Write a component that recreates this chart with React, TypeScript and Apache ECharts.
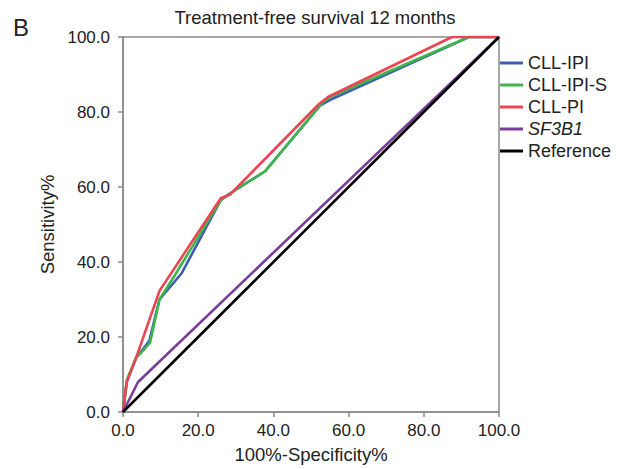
import React, { useEffect, useRef } from "react";
import * as echarts from "echarts";

const seriesNames = ["CLL-IPI", "CLL-IPI-S", "CLL-PI", "SF3B1", "Reference"];
const seriesColors = ["#3a5fb0", "#3db54a", "#ec4450", "#7a3d98", "#000000"];

const cllIpi: [number, number][] = [
  [0, 0], [1, 8], [3.5, 14.5], [5.5, 17], [7, 19], [9.7, 30], [15.6, 37], [26, 56.5], [28, 58],
  [37.8, 64.2], [52.5, 81.8], [55, 83.2], [92, 100], [100, 100],
];
const cllIpiS: [number, number][] = [
  [0, 0], [1, 8.5], [3.5, 14.5], [5, 16], [7.2, 18.5], [9.7, 30], [13.5, 36], [26, 56.5], [28, 58],
  [37.8, 64.2], [53, 82.5], [55, 84], [92, 100], [100, 100],
];
const cllPi: [number, number][] = [
  [0, 0], [1, 8], [3.5, 14.5], [9.7, 32.3], [26, 57], [28.5, 58], [52, 82], [54.5, 84],
  [87.5, 100], [100, 100],
];
const sf3b1: [number, number][] = [[0, 0], [4, 8], [100, 100]];
const reference: [number, number][] = [[0, 0], [100, 100]];

const seriesData = [cllIpi, cllIpiS, cllPi, sf3b1, reference];
const axisTicks = [0, 20, 40, 60, 80, 100];

const FONT = "'Liberation Sans', Arial, Helvetica, sans-serif";
const TEXT = "#222";
const AXIS = "#8a8a8a";

export default function App() {
  const ref = useRef<HTMLDivElement>(null);
  useEffect(() => {
    if (!ref.current) return;
    const chart = echarts.init(ref.current, null, { renderer: "svg" });
    const axisCommon = {
      type: "value",
      min: axisTicks[0],
      max: axisTicks[axisTicks.length - 1],
      interval: 20,
      nameLocation: "middle",
      nameTextStyle: { fontFamily: FONT, fontSize: 18.5, color: TEXT },
      axisLine: { show: true, lineStyle: { color: AXIS, width: 1.5 } },
      axisTick: { show: true, length: 5, lineStyle: { color: AXIS, width: 1.5 } },
      axisLabel: {
        fontFamily: FONT, fontSize: 17, color: TEXT,
        formatter: (v: number) => v.toFixed(1),
      },
      splitLine: { show: false },
    };
    chart.setOption({
      animation: false,
      backgroundColor: "#ffffff",
      title: {
        text: "Treatment-free survival 12 months",
        left: 315,
        textAlign: "center",
        top: 8,
        padding: 0,
        textStyle: { fontFamily: FONT, fontSize: 18.5, fontWeight: "normal", color: TEXT },
      },
      graphic: [
        {
          type: "text",
          left: 13,
          top: 15,
          style: { text: "B", fontFamily: FONT, fontSize: 24, fill: TEXT },
        },
      ],
      grid: {
        left: 123, right: 126, top: 37, bottom: 56,
        show: true, borderColor: AXIS, borderWidth: 1.5, backgroundColor: "transparent",
      },
      xAxis: { ...axisCommon, name: "100%-Specificity%", nameGap: 33, axisLabel: { ...axisCommon.axisLabel, margin: 10 } },
      yAxis: { ...axisCommon, name: "Sensitivity%", nameGap: 62, axisLabel: { ...axisCommon.axisLabel, margin: 13 } },
      legend: {
        orient: "vertical",
        left: 500,
        top: 54,
        padding: 0,
        itemWidth: 23,
        itemHeight: 3,
        itemGap: 4,
        icon: "rect",
        data: seriesNames,
        textStyle: {
          fontFamily: FONT, fontSize: 18, color: TEXT,
          rich: { i: { fontFamily: FONT, fontSize: 18, fontStyle: "italic", color: TEXT } },
        },
        formatter: (name: string) => (name === "SF3B1" ? "{i|" + name + "}" : name),
      },
      series: seriesNames.map((name, i) => ({
        name,
        type: "line",
        data: seriesData[i],
        showSymbol: false,
        symbol: "none",
        lineStyle: { color: seriesColors[i], width: 2.6 },
        itemStyle: { color: seriesColors[i] },
        z: 2 + i,
      })),
    });
    return () => chart.dispose();
  }, []);
  return (
    <div
      ref={ref}
      style={{ position: "absolute", left: 0, top: 0, width: 625, height: 469 }}
    />
  );
}
